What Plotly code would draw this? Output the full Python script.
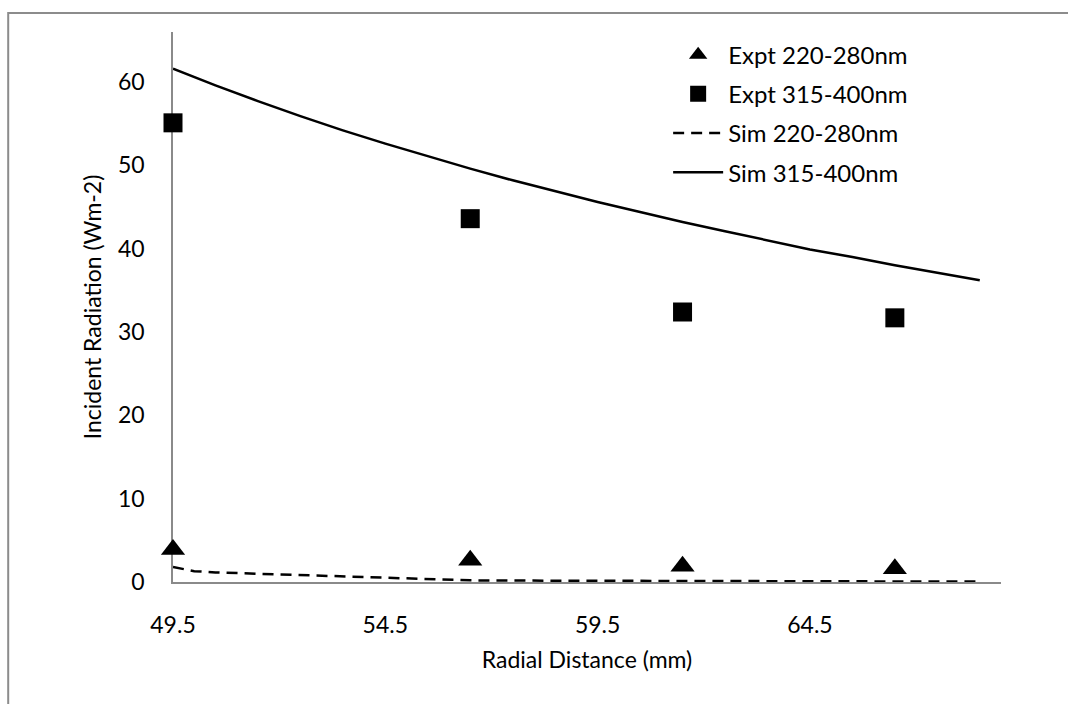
import plotly.graph_objects as go

# ---- data ----
expt_x = [49.5, 56.5, 61.5, 66.5]
expt_220_280 = [3.9, 2.6, 1.9, 1.6]
expt_315_400 = [55.1, 43.6, 32.4, 31.7]

sim_x = [49.5, 50.0, 50.5, 51.5, 52.5, 53.5, 54.5, 55.5, 56.5, 57.5, 58.5,
         59.5, 60.5, 61.5, 62.5, 63.5, 64.5, 65.5, 66.5, 67.5, 68.5]
sim_220_280 = [1.8, 1.3, 1.15, 1.0, 0.88, 0.72, 0.55, 0.36, 0.2, 0.17, 0.15,
               0.14, 0.13, 0.12, 0.11, 0.1, 0.09, 0.08, 0.07, 0.06, 0.05]
sim_315_400 = [61.6, 60.6, 59.6, 57.7, 55.9, 54.2, 52.6, 51.1, 49.6, 48.2, 46.9,
               45.6, 44.4, 43.2, 42.1, 41.0, 39.9, 39.0, 38.0, 37.1, 36.2]

x_ticks = [49.5, 54.5, 59.5, 64.5]
y_ticks = [0, 10, 20, 30, 40, 50, 60]

FONT = "Lato"
AXIS_GRAY = "#8a8a8a"

fig = go.Figure()
fig.add_trace(go.Scatter(
    x=expt_x, y=expt_220_280, mode="markers", name="Expt 220-280nm",
    legendgroup="a",
    marker=dict(symbol="triangle-up", size=21, color="black"),
    cliponaxis=False))
fig.add_trace(go.Scatter(
    x=expt_x, y=expt_315_400, mode="markers", name="Expt 315-400nm",
    legendgroup="b",
    marker=dict(symbol="square", size=19, color="black"),
    cliponaxis=False))
fig.add_trace(go.Scatter(
    x=sim_x, y=sim_220_280, mode="lines", name="Sim 220-280nm",
    legendgroup="c",
    line=dict(color="black", width=2.5, dash="11px,7px"),
    cliponaxis=False))
fig.add_trace(go.Scatter(
    x=sim_x, y=sim_315_400, mode="lines", name="Sim 315-400nm",
    legendgroup="d",
    line=dict(color="black", width=2.5),
    cliponaxis=False))

fig.update_layout(
    width=1068, height=704,
    margin=dict(l=173, r=67, t=32, b=122),
    paper_bgcolor="white", plot_bgcolor="white",
    font=dict(family=FONT, size=23, color="black"),
    showlegend=True,
    legend=dict(x=0.598, y=0.999, xanchor="left", yanchor="top",
                bgcolor="rgba(0,0,0,0)", borderwidth=0,
                itemwidth=50,
                font=dict(family=FONT, size=24, color="black"),
                tracegroupgap=5),
    xaxis=dict(range=[49.5, 69.0], tickvals=x_ticks,
               ticktext=[str(v) for v in x_ticks],
               showline=True, linecolor=AXIS_GRAY, linewidth=1.6,
               showgrid=False, zeroline=False, ticks="",
               ticklabelstandoff=22, layer="below traces",
               title=dict(text="Radial Distance (mm)", standoff=14,
                          font=dict(family=FONT, size=23))),
    yaxis=dict(range=[0, 66], tickvals=y_ticks,
               showline=True, linecolor=AXIS_GRAY, linewidth=1.6,
               showgrid=False, zeroline=False, ticks="",
               ticklabelstandoff=22, layer="below traces",
               title=dict(text="Incident Radiation (Wm-2)", standoff=10,
                          font=dict(family=FONT, size=23))),
    shapes=[dict(type="rect", xref="paper", yref="paper",
                 x0=(8 - 173) / 829, x1=1.3, y0=-0.5, y1=1 + (32 - 13) / 550,
                 line=dict(color="#8c8c8c", width=2), layer="below")],
)

fig.write_html("out.html")
